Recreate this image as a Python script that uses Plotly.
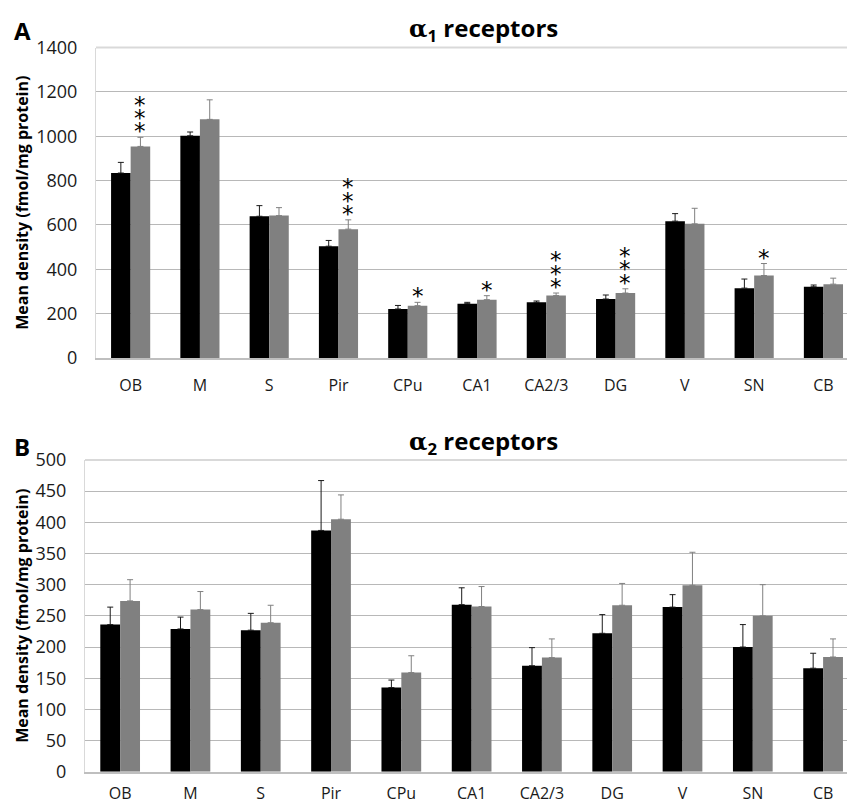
import plotly.graph_objects as go

# Brain regions shared by both panels
regions = ["OB", "M", "S", "Pir", "CPu", "CA1", "CA2/3", "DG", "V", "SN", "CB"]

# Panel A: alpha-1 receptor density (fmol/mg protein), mean and SEM
a1_black = [834, 1002, 639, 504, 221, 245, 251, 266, 617, 315, 321]
a1_black_err = [48, 17, 48, 26, 16, 6, 6, 18, 34, 41, 8]
a1_gray = [954, 1076, 642, 581, 236, 263, 282, 293, 605, 372, 333]
a1_gray_err = [41, 88, 36, 42, 15, 18, 11, 19, 70, 54, 27]
a1_stars = [3, 0, 0, 3, 1, 1, 3, 3, 0, 1, 0]

# Panel B: alpha-2 receptor density (fmol/mg protein), mean and SEM
a2_black = [236, 229, 227, 387, 135, 268, 170, 222, 264, 200, 166]
a2_black_err = [28, 19, 27, 80, 12, 27, 29, 30, 20, 36, 24]
a2_gray = [274, 260, 239, 405, 159, 265, 183, 267, 299, 250, 184]
a2_gray_err = [34, 29, 28, 39, 27, 32, 30, 35, 53, 50, 29]

# y-axis tick values
a1_ticks = [0, 200, 400, 600, 800, 1000, 1200, 1400]
a2_ticks = [0, 50, 100, 150, 200, 250, 300, 350, 400, 450, 500]

W, H = 847, 805
BARGAP = 0.435
FONT = "Open Sans"
TXT = "#1a1a1a"

xs = list(range(len(regions)))

fig = go.Figure()


def add_pair(black, black_err, gray, gray_err, xa, ya):
    for vals, errs, col, ecol in [(black, black_err, "#000000", "#1a1a1a"),
                                  (gray, gray_err, "#808080", "#808080")]:
        fig.add_trace(go.Bar(
            x=xs, y=vals, xaxis=xa, yaxis=ya,
            marker=dict(color=col, line=dict(width=0)),
            error_y=dict(type="data", symmetric=False, array=errs,
                         arrayminus=[0] * len(errs), color=ecol,
                         thickness=1, width=3),
            showlegend=False, hoverinfo="skip",
        ))


add_pair(a1_black, a1_black_err, a1_gray, a1_gray_err, "x", "y")
add_pair(a2_black, a2_black_err, a2_gray, a2_gray_err, "x2", "y2")

# Plot-area placement in pixels (figure has zero margins)
A_left, A_top, A_bot = 96, 47.5, 358
B_left, B_top, B_bot = 85, 460, 771.7


def ydom(top, bot):
    return [1 - bot / H, 1 - top / H]


common = dict(zeroline=False, automargin=False, fixedrange=True)
xfont = dict(family=FONT, size=16, color=TXT)
yfont = dict(family=FONT, size=18, color=TXT)
hidden_tick = "rgba(0,0,0,0)"

fig.update_layout(
    width=W, height=H,
    margin=dict(l=0, r=0, t=0, b=0),
    paper_bgcolor="white", plot_bgcolor="white",
    barmode="group", bargap=BARGAP, bargroupgap=0,
    xaxis=dict(domain=[A_left / W, 1], anchor="y", range=[-0.5, 10.34],
               tickvals=xs, ticktext=regions, showgrid=False,
               showline=True, linecolor="#bfbfbf", linewidth=2,
               ticks="outside", ticklen=12, tickcolor=hidden_tick,
               tickfont=xfont, **common),
    yaxis=dict(domain=ydom(A_top, A_bot), anchor="x", range=[0, 1400],
               tickvals=a1_ticks, showgrid=True, gridcolor="#b8b8b8",
               gridwidth=1, showline=True, linecolor="#d9d9d9", linewidth=1,
               ticks="outside", ticklen=14, tickcolor=hidden_tick,
               tickfont=yfont, **common),
    xaxis2=dict(domain=[B_left / W, 1], anchor="y2", range=[-0.5, 10.34],
                tickvals=xs, ticktext=regions, showgrid=False,
                showline=True, linecolor="#bfbfbf", linewidth=2,
                ticks="outside", ticklen=6, tickcolor=hidden_tick,
                tickfont=xfont, **common),
    yaxis2=dict(domain=ydom(B_top, B_bot), anchor="x2", range=[0, 500],
                tickvals=a2_ticks, showgrid=True, gridcolor="#b8b8b8",
                gridwidth=1, showline=True, linecolor="#d9d9d9", linewidth=1,
                ticks="outside", ticklen=14, tickcolor=hidden_tick,
                tickfont=yfont, **common),
)

# light top border of each plot area
for xr, yr in [("x domain", "y domain"), ("x2 domain", "y2 domain")]:
    fig.add_shape(type="line", xref=xr, yref=yr, x0=0, x1=1, y0=1, y1=1,
                  line=dict(color="#d9d9d9", width=2), layer="below")

annotations = []

# significance stars above the gray bars of panel A
star_dx = (1 - BARGAP) / 4
for i, n in enumerate(a1_stars):
    for k in range(n):
        annotations.append(dict(
            x=xs[i] + star_dx, y=a1_gray[i] + a1_gray_err[i], xref="x", yref="y",
            text="*", showarrow=False, xanchor="center", yanchor="middle",
            yshift=6 + 13.3 * k, font=dict(family="DejaVu Sans", size=23, color="#000000"),
        ))

# panel letters
for letter, ypx in [("A", 30.5), ("B", 446.5)]:
    annotations.append(dict(
        x=22 / W, y=1 - ypx / H, xref="paper", yref="paper",
        text=f"<b>{letter}</b>", showarrow=False, xanchor="center", yanchor="middle",
        font=dict(family=FONT, size=24, color="#000000"),
    ))

# panel titles
for sub, ypx in [("1", 29), ("2", 442)]:
    annotations.append(dict(
        x=483 / W, y=1 - ypx / H, xref="paper", yref="paper",
        text=f"<b><span style='font-family:DejaVu Serif'>α</span><sub>{sub}</sub> receptors</b>",
        showarrow=False, xanchor="center", yanchor="middle",
        font=dict(family=FONT, size=24, color="#000000"),
    ))

# y-axis titles
for top, bot in [(A_top, A_bot), (B_top, B_bot)]:
    annotations.append(dict(
        x=22 / W, y=1 - ((top + bot) / 2) / H, xref="paper", yref="paper",
        text="<b>Mean density (fmol/mg protein)</b>", textangle=-90,
        showarrow=False, xanchor="center", yanchor="middle",
        font=dict(family=FONT, size=16, color="#000000"),
    ))

fig.update_layout(annotations=annotations)

fig.write_html("out.html")
